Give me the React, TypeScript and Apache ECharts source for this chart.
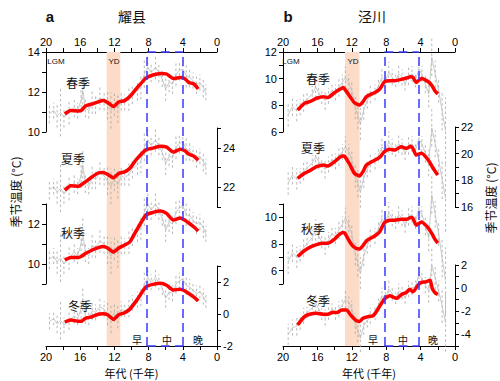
import { useEffect, useRef } from 'react';
import * as echarts from 'echarts';

// ---------- Panel a (耀县) ----------
const ageGrayA = [19.6, 19.1, 18.7, 18.3, 17.9, 17.3, 16.7, 16.3, 15.9, 15.7, 15.4, 15.0, 14.6, 14.2, 13.7, 13.2, 12.8, 12.4, 12.0, 11.6, 11.2, 10.8, 10.3, 9.9, 9.3, 8.9, 8.5, 8.1, 7.7, 7.2, 6.8, 6.4, 6.0, 5.6, 5.2, 4.8, 4.4, 4.0, 3.6, 3.2, 2.8, 2.4, 2.0, 1.6, 1.3];
const springGrayA = [10.93, 11.07, 10.82, 10.98, 10.73, 10.98, 11.23, 11.07, 11.57, 12.07, 11.23, 11.07, 11.5, 11.4, 11.7, 11.57, 11.32, 11.07, 11.4, 11.15, 11.57, 11.48, 11.65, 11.9, 12.07, 12.23, 12.9, 13.23, 12.98, 13.23, 12.98, 12.65, 12.15, 12.48, 12.4, 12.9, 13.07, 13.15, 12.82, 12.73, 12.57, 12.4, 12.48, 12.23, 11.98];
const summerGrayA = [21.88, 22.04, 21.76, 21.94, 21.66, 21.94, 22.21, 22.04, 22.58, 23.13, 22.21, 22.04, 22.5, 22.4, 22.72, 22.58, 22.31, 22.04, 22.4, 22.12, 22.58, 22.48, 22.67, 22.94, 23.13, 23.3, 24.03, 24.39, 24.12, 24.39, 24.12, 23.76, 23.21, 23.57, 23.49, 24.03, 24.22, 24.3, 23.94, 23.84, 23.67, 23.49, 23.57, 23.3, 23.03];
const autumnGrayA = [10.24, 10.4, 10.1, 10.3, 10.0, 10.3, 10.6, 10.4, 11.0, 11.6, 10.6, 10.4, 10.92, 10.8, 11.16, 11.0, 10.7, 10.4, 10.8, 10.5, 11.0, 10.9, 11.1, 11.4, 11.6, 11.8, 12.6, 13.0, 12.7, 13.0, 12.7, 12.3, 11.7, 12.1, 12.0, 12.6, 12.8, 12.9, 12.5, 12.4, 12.2, 12.0, 12.1, 11.8, 11.5];
const winterGrayA = [-0.46, -0.3, -0.6, -0.4, -0.7, -0.4, -0.11, -0.3, 0.3, 0.89, -0.11, -0.3, 0.21, 0.1, 0.45, 0.3, 0.0, -0.3, 0.1, -0.2, 0.3, 0.19, 0.39, 0.69, 0.89, 1.08, 1.88, 2.27, 1.98, 2.27, 1.98, 1.58, 0.99, 1.38, 1.29, 1.88, 2.08, 2.18, 1.78, 1.68, 1.49, 1.29, 1.38, 1.08, 0.79];
const errA = [0.5, 0.4, 0.6, 1.2, 0.5, 0.6, 0.5, 0.4, 0.6, 0.7, 0.5, 0.4, 0.6, 0.5, 0.6, 0.5, 0.7, 0.9, 0.6, 0.7, 0.5, 0.4, 0.6, 0.5, 0.5, 0.6, 0.7, 0.6, 0.5, 0.6, 0.5, 0.4, 0.6, 0.5, 0.5, 0.6, 0.5, 0.4, 0.6, 0.5, 0.4, 0.5, 0.4, 0.5, 0.4];

const ageRedA = [17.8, 17.1, 16.2, 15.8, 15.4, 14.6, 13.8, 13.3, 12.8, 12.1, 11.5, 10.8, 10.2, 9.4, 8.3, 7.5, 6.6, 5.9, 5.1, 4.3, 3.8, 3.3, 2.7, 2.2];
const springRedA = [10.9, 11.07, 11.05, 11.1, 11.3, 11.4, 11.52, 11.57, 11.48, 11.27, 11.5, 11.57, 11.77, 12.18, 12.7, 12.85, 12.93, 12.9, 12.67, 12.73, 12.68, 12.48, 12.4, 12.15];
const summerRedA = [21.85, 22.07, 22.05, 22.15, 22.27, 22.53, 22.74, 22.75, 22.65, 22.48, 22.7, 22.78, 22.96, 23.42, 23.9, 23.98, 24.07, 24.03, 23.78, 23.93, 23.86, 23.68, 23.57, 23.37];
const autumnRedA = [10.2, 10.33, 10.33, 10.4, 10.52, 10.7, 10.83, 10.87, 10.8, 10.6, 10.8, 10.95, 11.1, 11.7, 12.45, 12.58, 12.65, 12.53, 12.2, 12.3, 12.2, 12.05, 11.85, 11.65];
const winterRedA = [-0.5, -0.37, -0.46, -0.44, -0.27, -0.17, 0.0, 0.02, -0.05, -0.33, -0.05, 0.08, 0.3, 0.85, 1.7, 1.85, 1.92, 1.8, 1.5, 1.55, 1.45, 1.28, 1.05, 0.81];

// ---------- Panel b (泾川) ----------
const ageGrayB = [19.4, 18.9, 18.4, 18.0, 17.6, 17.2, 16.6, 16.2, 15.85, 15.5, 15.1, 14.7, 14.3, 13.9, 13.5, 13.1, 12.75, 12.35, 12.0, 11.6, 11.3, 11.0, 10.6, 10.2, 9.85, 9.3, 8.9, 8.5, 8.1, 7.7, 7.3, 6.9, 6.55, 6.15, 5.8, 5.4, 5.0, 4.6, 4.2, 3.85, 3.45, 3.05, 2.7, 2.3, 1.9, 1.5, 1.1];
const springGrayB = [7.3, 7.9, 7.6, 7.85, 8.22, 8.47, 8.85, 9.35, 8.97, 8.6, 8.35, 8.72, 9.1, 8.97, 9.35, 9.72, 10.1, 9.72, 9.1, 7.85, 7.22, 6.6, 7.72, 8.35, 8.85, 8.97, 9.47, 10.1, 9.85, 10.47, 10.1, 9.85, 10.35, 10.1, 9.6, 10.22, 10.35, 9.85, 10.72, 10.35, 9.6, 8.85, 11.6, 10.35, 9.1, 7.6, 6.1];
const summerGrayB = [17.81, 18.39, 18.1, 18.34, 18.7, 18.94, 19.3, 19.78, 19.42, 19.06, 18.82, 19.18, 19.54, 19.42, 19.78, 20.14, 20.5, 20.14, 19.54, 18.34, 17.74, 17.14, 18.22, 18.82, 19.3, 19.42, 19.9, 20.5, 20.26, 20.86, 20.5, 20.26, 20.74, 20.5, 20.02, 20.62, 20.74, 20.26, 21.1, 20.74, 20.02, 19.3, 21.94, 20.74, 19.54, 18.1, 16.66];
const autumnGrayB = [6.65, 7.35, 7.0, 7.29, 7.73, 8.02, 8.46, 9.05, 8.6, 8.17, 7.88, 8.31, 8.76, 8.6, 9.05, 9.48, 9.93, 9.48, 8.76, 7.29, 6.56, 5.83, 7.14, 7.88, 8.46, 8.6, 9.19, 9.93, 9.63, 10.36, 9.93, 9.63, 10.22, 9.93, 9.34, 10.07, 10.22, 9.63, 10.65, 10.22, 9.34, 8.46, 11.68, 10.22, 8.76, 7.0, 5.25];
const winterGrayB = [-4.0, -3.4, -3.3, -3.0, -2.4, -2.1, -1.7, -1.3, -1.8, -2.26, -2.55, -2.15, -1.8, -2.13, -1.83, -1.47, -0.96, -1.2, -1.77, -3.06, -3.68, -4.33, -3.23, -2.81, -2.38, -2.16, -1.42, -0.65, -0.83, -0.07, -0.49, -0.87, -0.29, -0.38, -0.84, -0.08, 0.01, 0.15, 1.15, 0.85, 0.25, -0.26, 2.0, 0.88, -0.25, -1.5, -3.0];
const errB = [0.9, 0.7, 0.8, 0.6, 0.7, 0.5, 0.6, 0.8, 0.6, 0.5, 0.7, 0.6, 0.5, 0.6, 0.7, 0.6, 0.8, 0.6, 0.7, 0.9, 1.0, 1.2, 0.8, 0.6, 0.7, 0.6, 0.5, 0.7, 0.6, 0.8, 0.6, 0.5, 0.7, 0.6, 0.5, 0.7, 0.6, 0.5, 0.8, 0.6, 0.7, 1.0, 1.4, 1.0, 0.9, 1.5, 2.5];

const ageRedB = [18.3, 17.5, 16.9, 16.1, 15.3, 14.8, 14.0, 13.4, 13.0, 12.8, 12.2, 11.7, 11.1, 10.7, 10.3, 9.3, 8.75, 8.2, 7.6, 7.0, 6.25, 5.65, 5.15, 4.9, 4.5, 3.9, 3.1, 2.65, 2.35, 2.0];
const springRedB = [7.65, 8.15, 8.27, 8.53, 8.65, 8.58, 8.95, 9.2, 9.33, 9.2, 8.65, 8.2, 8.02, 8.27, 8.65, 8.97, 9.22, 9.77, 9.85, 9.85, 9.95, 10.05, 10.15, 10.1, 9.72, 10.02, 9.77, 9.45, 9.1, 8.85];
const summerRedB = [18.15, 18.53, 18.72, 19.02, 19.15, 19.07, 19.4, 19.73, 19.82, 19.78, 19.15, 18.53, 18.33, 18.65, 19.15, 19.52, 19.73, 20.15, 20.33, 20.27, 20.52, 20.4, 20.55, 20.4, 19.9, 20.03, 19.52, 19.02, 18.72, 18.4];
const autumnRedB = [7.06, 7.5, 7.75, 7.95, 8.05, 8.05, 8.37, 8.74, 8.87, 8.8, 8.12, 7.75, 7.63, 7.87, 8.24, 8.62, 8.92, 9.6, 9.78, 9.78, 9.85, 9.85, 9.98, 9.93, 9.41, 9.65, 9.19, 8.74, 8.37, 8.07];
const ageRedBW = [18.3, 17.5, 16.9, 16.1, 15.3, 14.8, 14.2, 13.7, 13.2, 12.6, 12.2, 11.6, 11.1, 10.7, 10.1, 9.5, 8.9, 8.2, 7.6, 6.8, 6.2, 5.65, 5.25, 4.9, 4.3, 3.9, 3.4, 2.9, 2.65, 2.35, 2.0];
const winterRedB = [-3.17, -2.46, -2.26, -2.17, -2.26, -2.26, -2.09, -2.11, -1.89, -1.89, -2.26, -2.74, -2.88, -2.6, -2.46, -2.37, -1.74, -0.94, -0.66, -0.88, -0.54, -0.37, -0.09, -0.32, 0.26, 0.49, 0.54, 0.69, -0.03, -0.37, -0.54];

const seasons = ['春季', '夏季', '秋季', '冬季'];
const phases = ['早', '中', '晚'];
const ydA = [12.9, 11.3];
const ydB = [12.8, 11.1];
const boundsA = [8.2, 4.0];
const boundsB = [8.2, 4.2];

const FONT = '"Liberation Sans", Arial, sans-serif';
const CJK = '"Noto Sans CJK SC", sans-serif';

const zip = (xs: number[], ys: number[]) => xs.map((x, i) => [x, ys[i]]);
const bars = (xs: number[], ys: number[], es: number[]) => xs.map((x, i) => [x, ys[i] - es[i], ys[i] + es[i]]);

type Sub = {
  top: number; height: number; min: number; max: number; side: 'left' | 'right';
  ageGray: number[]; gray: number[]; err: number[]; ageRed: number[]; red: number[];
};

function buildOption() {
  const grid: any[] = [];
  const xAxis: any[] = [];
  const yAxis: any[] = [];
  const series: any[] = [];

  const axisCommon = {
    axisLine: { show: true, onZero: false, lineStyle: { color: '#000', width: 1 } },
    axisTick: { show: true, length: 4, lineStyle: { color: '#000' } },
    splitLine: { show: false },
  };

  const addPanel = (left: number, width: number, subs: Sub[], yd: number[], bounds: number[]) => {
    subs.forEach((s, k) => {
      const gi = grid.length;
      grid.push({ left, top: s.top, width, height: s.height });
      xAxis.push({
        gridIndex: gi, type: 'value', min: 0, max: 20, interval: 2, inverse: true,
        show: k === 0 || k === 3, position: k === 0 ? 'top' : 'bottom',
        ...axisCommon,
        axisLabel: { fontSize: 11, color: '#000', fontFamily: FONT, margin: 5, formatter: (v: number) => (v % 4 === 0 ? String(v) : '') },
        name: k === 3 ? '年代 (千年)' : '', nameLocation: 'middle', nameGap: 21,
        nameTextStyle: { fontFamily: CJK, fontSize: 11, color: '#000' },
      });
      yAxis.push({
        gridIndex: gi, type: 'value', min: s.min, max: s.max, interval: 1, position: s.side,
        ...axisCommon,
        axisLabel: { fontSize: 11, color: '#000', fontFamily: FONT, margin: 6, formatter: (v: number) => (Math.round(v) % 2 === 0 ? String(v) : '') },
      });
      series.push({
        type: 'custom', xAxisIndex: gi, yAxisIndex: gi, clip: false, silent: true, z: 2,
        data: bars(s.ageGray, s.gray, s.err), encode: { x: 0, y: [1, 2] },
        renderItem: (_p: any, api: any) => {
          const x = api.value(0);
          const p1 = api.coord([x, api.value(1)]);
          const p2 = api.coord([x, api.value(2)]);
          return { type: 'line', shape: { x1: p1[0], y1: p1[1], x2: p2[0], y2: p2[1] }, style: { stroke: '#a6a6a6', lineWidth: 0.8, lineDash: [2.5, 2.5] } };
        },
      });
      series.push({
        type: 'line', xAxisIndex: gi, yAxisIndex: gi, clip: false, silent: true, z: 3,
        data: zip(s.ageGray, s.gray), symbol: 'none', lineStyle: { color: '#bdbdbd', width: 0.8 },
      });
      series.push({
        type: 'line', xAxisIndex: gi, yAxisIndex: gi, clip: false, silent: true, z: 4,
        data: zip(s.ageRed, s.red), symbol: 'none', smooth: 0.2, lineStyle: { color: '#ff0000', width: 3.5 },
      });
    });
    const go = grid.length;
    grid.push({ left, top: 52, width, height: 294 });
    xAxis.push({ gridIndex: go, type: 'value', min: 0, max: 20, inverse: true, show: false });
    yAxis.push({ gridIndex: go, type: 'value', min: 0, max: 1, show: false });
    series.push({
      type: 'line', xAxisIndex: go, yAxisIndex: go, z: 0, silent: true, symbol: 'none',
      data: [[10, 0.5]], lineStyle: { opacity: 0 },
      markArea: { silent: true, itemStyle: { color: '#fcdcc9' }, data: [[{ coord: [yd[0], 0] }, { coord: [yd[1], 1] }]] },
    });
    series.push({
      type: 'line', xAxisIndex: go, yAxisIndex: go, z: 6, silent: true, symbol: 'none',
      data: [[10, 0.5]], lineStyle: { opacity: 0 },
      markLine: {
        silent: true, symbol: ['none', 'none'], label: { show: false },
        lineStyle: { color: '#3a3aff', type: [9, 5], width: 1.5 },
        data: [
          [{ coord: [bounds[0], 0] }, { coord: [bounds[0], 1] }],
          [{ coord: [bounds[1], 0] }, { coord: [bounds[1], 1] }],
          [{ coord: [bounds[0], 1] }, { coord: [bounds[1], 1] }],
          [{ coord: [bounds[0], 0] }, { coord: [bounds[1], 0] }],
        ],
      },
    });
  };

  addPanel(46, 171, [
    { top: 52, height: 80, min: 10, max: 14, side: 'left', ageGray: ageGrayA, gray: springGrayA, err: errA, ageRed: ageRedA, red: springRedA },
    { top: 128, height: 79, min: 21, max: 25, side: 'right', ageGray: ageGrayA, gray: summerGrayA, err: errA, ageRed: ageRedA, red: summerRedA },
    { top: 204, height: 80, min: 9, max: 13, side: 'left', ageGray: ageGrayA, gray: autumnGrayA, err: errA, ageRed: ageRedA, red: autumnRedA },
    { top: 266, height: 80, min: -2, max: 3, side: 'right', ageGray: ageGrayA, gray: winterGrayA, err: errA, ageRed: ageRedA, red: winterRedA },
  ], ydA, boundsA);

  addPanel(283, 172, [
    { top: 52, height: 80, min: 6, max: 12, side: 'left', ageGray: ageGrayB, gray: springGrayB, err: errB, ageRed: ageRedB, red: springRedB },
    { top: 127, height: 80, min: 16, max: 22, side: 'right', ageGray: ageGrayB, gray: summerGrayB, err: errB, ageRed: ageRedB, red: summerRedB },
    { top: 204, height: 80, min: 5, max: 11, side: 'left', ageGray: ageGrayB, gray: autumnGrayB, err: errB, ageRed: ageRedB, red: autumnRedB },
    { top: 265, height: 81, min: -5, max: 2, side: 'right', ageGray: ageGrayB, gray: winterGrayB, err: errB, ageRed: ageRedBW, red: winterRedB },
  ], ydB, boundsB);

  const txt = (x: number, y: number, text: string, font: string, extra: any = {}) => ({
    type: 'text', x, y, z: 10, silent: true, ...extra,
    style: { text, font, fill: '#111', align: 'center', verticalAlign: 'middle', textAlign: 'center', textVerticalAlign: 'middle' },
  });

  const seasonPosA = [[78, 82], [73, 158], [73, 232], [80, 305]];
  const seasonPosB = [[318, 78], [313, 147], [313, 228], [318, 300]];
  const phasePosA = [137, 167, 198];
  const phasePosB = [373, 403, 433];

  const graphic: any[] = [
    txt(50, 16, 'a', `bold 15px ${FONT}`),
    txt(132, 16, '耀县', `14px ${CJK}`),
    txt(288, 16, 'b', `bold 15px ${FONT}`),
    txt(372, 16, '泾川', `14px ${CJK}`),
    txt(56, 61, 'LGM', `8px ${FONT}`),
    txt(114, 61, 'YD', `8px ${FONT}`),
    txt(291, 61, 'LGM', `8px ${FONT}`),
    txt(353, 61, 'YD', `8px ${FONT}`),
    txt(15, 192, '季节温度 (°C)', `12px ${CJK}`, { rotation: Math.PI / 2 }),
    txt(490, 198, '季节温度 (°C)', `12px ${CJK}`, { rotation: Math.PI / 2 }),
  ];
  seasons.forEach((s, i) => {
    graphic.push(txt(seasonPosA[i][0], seasonPosA[i][1], s, `12px ${CJK}`));
    graphic.push(txt(seasonPosB[i][0], seasonPosB[i][1], s, `12px ${CJK}`));
  });
  phases.forEach((p, i) => {
    graphic.push(txt(phasePosA[i], 339, p, `10px ${CJK}`));
    graphic.push(txt(phasePosB[i], 339, p, `10px ${CJK}`));
  });

  return { animation: false, backgroundColor: '#fff', grid, xAxis, yAxis, series, graphic };
}

export default function App() {
  const ref = useRef<HTMLDivElement>(null);
  useEffect(() => {
    if (!ref.current) return;
    const chart = echarts.init(ref.current, undefined, { renderer: 'svg' });
    chart.setOption(buildOption() as any);
    return () => chart.dispose();
  }, []);
  return <div ref={ref} style={{ position: 'fixed', left: 0, top: 0, width: 500, height: 381 }} />;
}
